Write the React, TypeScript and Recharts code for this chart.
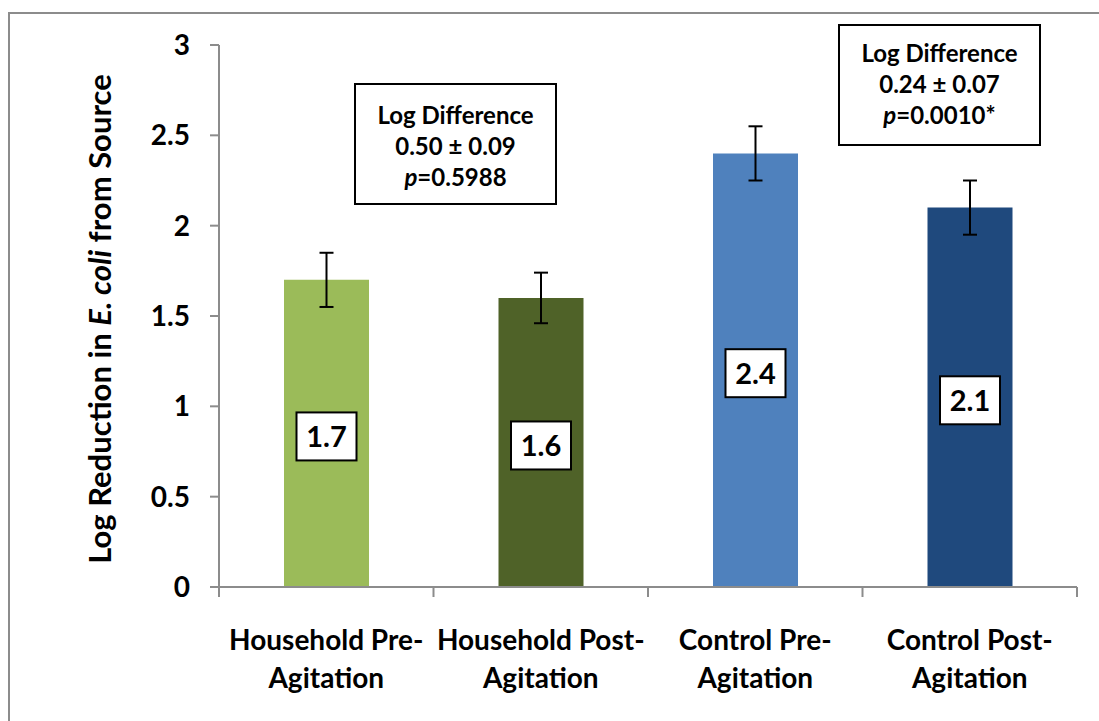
import React from 'react';
import { BarChart, Bar, XAxis, YAxis, ErrorBar, Cell, LabelList } from 'recharts';

const categories = [
  'Household Pre-Agitation',
  'Household Post-Agitation',
  'Control Pre-Agitation',
  'Control Post-Agitation',
];
const reductions = [1.7, 1.6, 2.4, 2.1];
const errors = [0.15, 0.14, 0.15, 0.15];
const barColors = ['#9BBB59', '#4F6228', '#4F81BD', '#1F497D'];
const yTicks = [0, 0.5, 1, 1.5, 2, 2.5, 3];

const householdDiff = '0.50 ± 0.09';
const householdP = '0.5988';
const controlDiff = '0.24 ± 0.07';
const controlP = '0.0010*';

const data = categories.map((name, i) => ({ name, value: reductions[i], err: errors[i] }));

const FONT = 'Lato, "Open Sans", sans-serif';
const AXIS = '#8c8c8c';
const W = 1099;
const H = 721;
const MARGIN = { top: 45, right: 22, bottom: 74, left: 0 };
const Y_AXIS_W = 219;
const X_AXIS_H = 60;
const PLOT_BOTTOM = H - MARGIN.bottom - X_AXIS_H;
const BAND = (W - MARGIN.left - MARGIN.right - Y_AXIS_W) / categories.length;

// category labels break after the hyphen, tick marks sit on the band edges
const CategoryTick = (props: any) => {
  const { x, payload, index } = props;
  const name: string = payload.value;
  const cut = name.indexOf('-') + 1;
  const half = BAND / 2;
  const textStyle = { fontFamily: FONT, fontWeight: 700, fontSize: 28, fill: '#000' };
  return (
    <g>
      {index === 0 && (
        <line x1={x - half} x2={x - half} y1={PLOT_BOTTOM} y2={PLOT_BOTTOM + 10} stroke={AXIS} strokeWidth={2} />
      )}
      <line x1={x + half} x2={x + half} y1={PLOT_BOTTOM} y2={PLOT_BOTTOM + 10} stroke={AXIS} strokeWidth={2} />
      <text x={x} y={PLOT_BOTTOM + 63} textAnchor='middle' {...textStyle}>
        {name.slice(0, cut)}
      </text>
      <text x={x} y={PLOT_BOTTOM + 101} textAnchor='middle' {...textStyle}>
        {name.slice(cut)}
      </text>
    </g>
  );
};

const YTitle = () => {
  const cx = 99;
  const cy = MARGIN.top + (PLOT_BOTTOM - MARGIN.top) / 2 + 3;
  return (
    <text
      x={cx}
      y={cy}
      transform={`rotate(-90, ${cx}, ${cy})`}
      textAnchor='middle'
      dominantBaseline='central'
      fontFamily={FONT}
      fontWeight={700}
      fontSize={31}
      fill='#000'
    >
      Log Reduction in <tspan fontStyle='italic'>E. coli</tspan> from Source
    </text>
  );
};

const ValueBox = (props: any) => {
  const { x, y, width, height, value } = props;
  const cx = x + width / 2;
  const cy = y + height / 2 + 3;
  return (
    <g>
      <rect x={cx - 30} y={cy - 24} width={60} height={48} fill='#fff' stroke='#000' strokeWidth={2} />
      <text
        x={cx}
        y={cy}
        dy='0.36em'
        textAnchor='middle'
        fontFamily={FONT}
        fontWeight={700}
        fontSize={29}
        fill='#000'
      >
        {Number(value).toFixed(1)}
      </text>
    </g>
  );
};

const NoteBox = ({ left, top, pad, diff, p }: { left: number; top: number; pad: number; diff: string; p: string }) => (
  <div
    style={{
      position: 'absolute',
      left,
      top,
      width: 203,
      height: 122,
      boxSizing: 'border-box',
      border: '2px solid #000',
      background: '#fff',
      fontFamily: FONT,
      fontWeight: 700,
      fontSize: 24,
      lineHeight: '31px',
      textAlign: 'center',
      paddingTop: pad,
    }}
  >
    <div>Log Difference</div>
    <div>{diff}</div>
    <div>
      <i>p</i>={p}
    </div>
  </div>
);

export default function App() {
  return (
    <div style={{ position: 'absolute', left: 0, top: 0, width: W, height: H, overflow: 'hidden' }}>
      <div
        style={{
          position: 'absolute',
          left: 8,
          top: 12,
          width: W,
          height: H,
          borderTop: `2px solid ${AXIS}`,
          borderLeft: `2px solid ${AXIS}`,
        }}
      />
      <div style={{ position: 'absolute', left: 0, top: 0 }}>
        <BarChart width={W} height={H} data={data} margin={MARGIN} barSize={85}>
          <XAxis
            dataKey='name'
            height={X_AXIS_H}
            tickLine={false}
            axisLine={{ stroke: AXIS, strokeWidth: 2 }}
            tick={<CategoryTick />}
            interval={0}
          />
          <YAxis
            width={Y_AXIS_W}
            domain={[0, 3]}
            ticks={yTicks}
            interval={0}
            tickSize={9}
            tickMargin={20}
            axisLine={{ stroke: AXIS, strokeWidth: 2 }}
            tickLine={{ stroke: AXIS, strokeWidth: 2 }}
            tick={{ fontFamily: FONT, fontWeight: 700, fontSize: 28, fill: '#000' }}
            tickFormatter={(v: number) => String(v)}
            label={{ content: <YTitle /> }}
          />
          <Bar dataKey='value' isAnimationActive={false}>
            {data.map((d, i) => (
              <Cell key={d.name} fill={barColors[i]} />
            ))}
            <ErrorBar dataKey='err' direction='y' width={7} stroke='#000' strokeWidth={2} />
            <LabelList dataKey='value' content={<ValueBox />} />
          </Bar>
        </BarChart>
      </div>
      <NoteBox left={354} top={83} pad={14} diff={householdDiff} p={householdP} />
      <NoteBox left={838} top={24} pad={11} diff={controlDiff} p={controlP} />
    </div>
  );
}
